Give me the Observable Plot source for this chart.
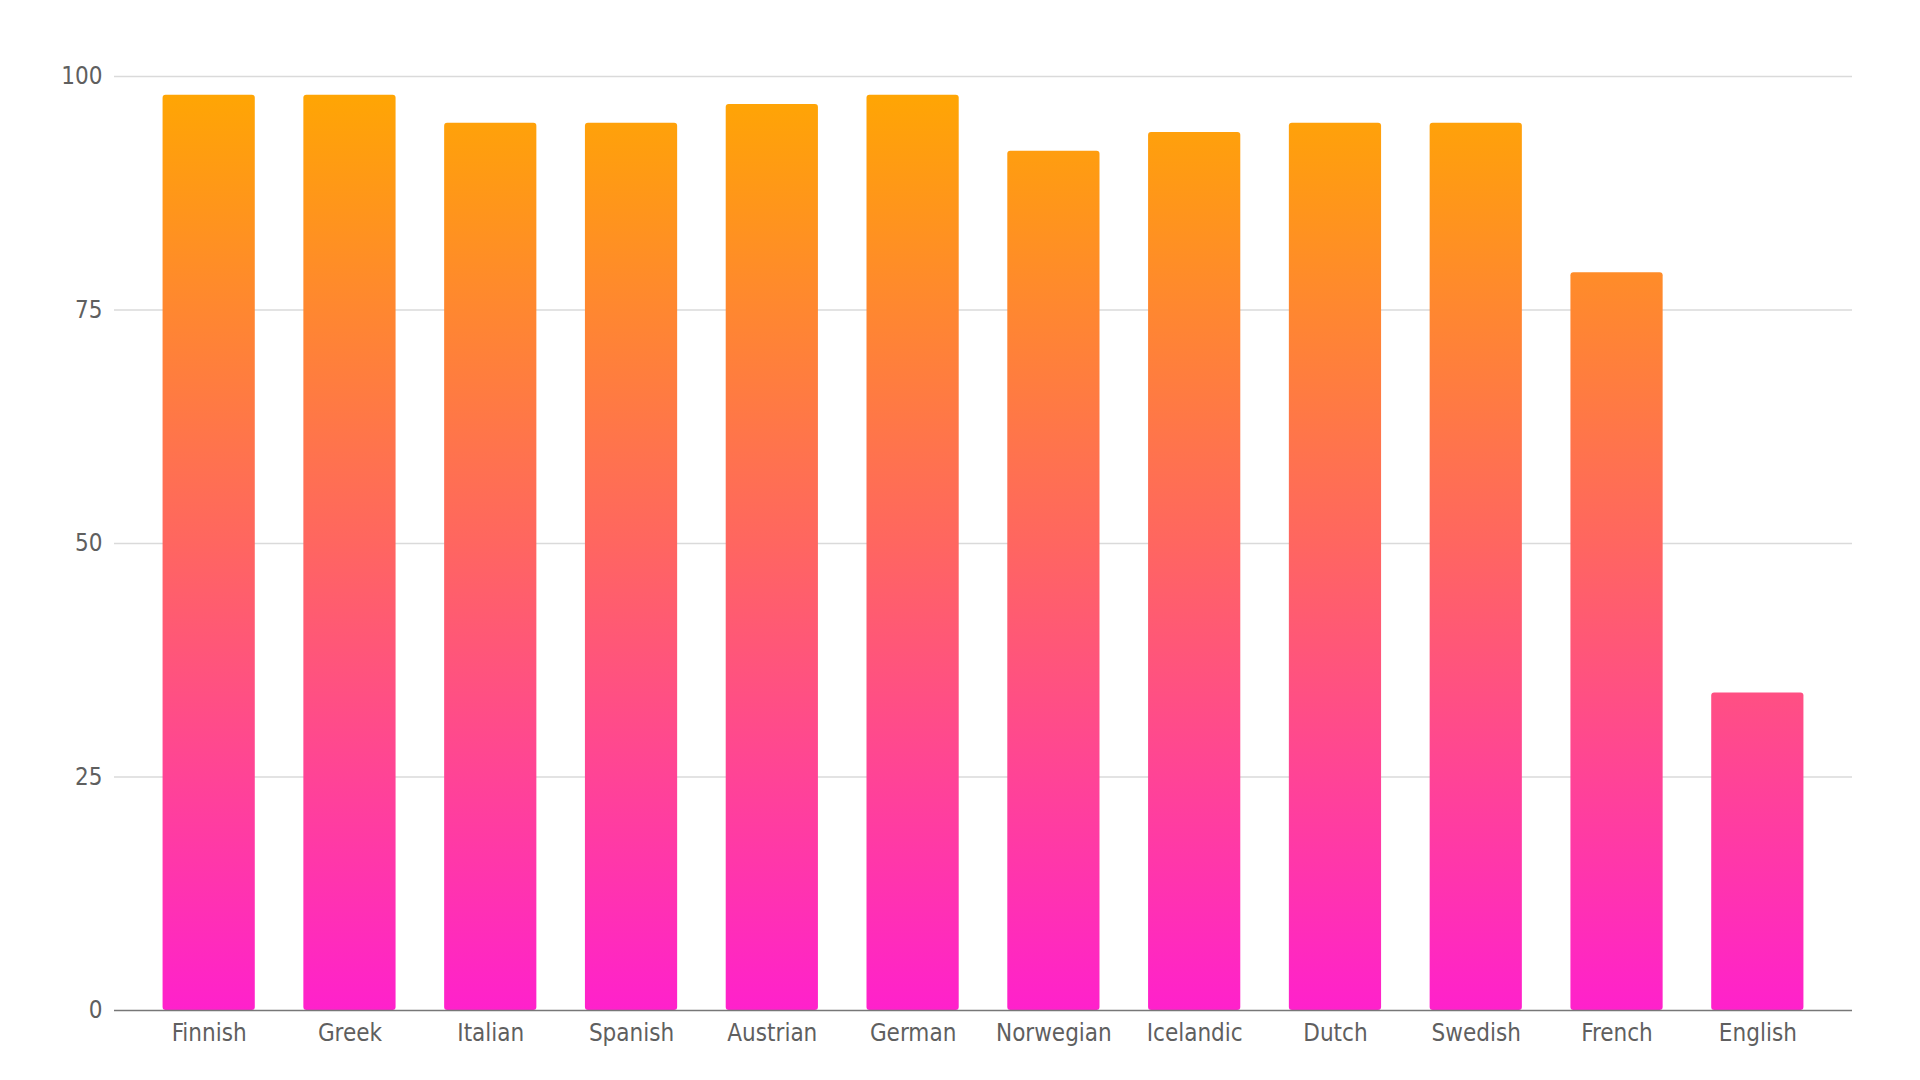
<!DOCTYPE html>
<html>
<head>
<meta charset="utf-8">
<script src="https://cdn.jsdelivr.net/npm/d3@7"></script>
<script src="https://cdn.jsdelivr.net/npm/@observablehq/plot@0.6"></script>
<style>
  html, body { margin: 0; padding: 0; background: #fff; }
  #chart { width: 1920px; height: 1080px; }
</style>
</head>
<body>
<div id="chart"></div>
<script>
const languages = ["Finnish", "Greek", "Italian", "Spanish", "Austrian", "German", "Norwegian", "Icelandic", "Dutch", "Swedish", "French", "English"];
const values = [98, 98, 95, 95, 97, 98, 92, 94, 95, 95, 79, 34];
const yTicks = [0, 25, 50, 75, 100];

const data = languages.map((name, i) => ({name, value: values[i]}));

const chart = Plot.plot({
  width: 1920,
  height: 1080,
  marginTop: 76,
  marginBottom: 70,
  marginLeft: 114,
  marginRight: 68,
  style: {fontFamily: "'DejaVu Sans Condensed', 'DejaVu Sans', sans-serif", fontSize: "24px", color: "#5f5f5f", background: "#fff"},
  x: {domain: languages, padding: 0.345, round: false, label: null},
  y: {domain: [0, 100], ticks: yTicks, label: null},
  marks: [
    Plot.ruleY(yTicks.filter(d => d > 0), {stroke: "#dadada", strokeWidth: 1.5}),
    Plot.barY(data, {x: "name", y: "value", fill: "url(#barGrad)", rx: 3}),
    Plot.ruleY([0], {stroke: "#777", strokeWidth: 1.5}),
    Plot.axisY({ticks: yTicks, tickSize: 0, tickPadding: 12, label: null, fill: "#5f5f5f"}),
    Plot.axisX({tickSize: 0, tickPadding: 13, label: null, fill: "#5f5f5f"})
  ]
});

// gradient spanning the value range 0..100 in user space
const y = chart.scale("y");
const svgNS = "http://www.w3.org/2000/svg";
const defs = document.createElementNS(svgNS, "defs");
const grad = document.createElementNS(svgNS, "linearGradient");
grad.setAttribute("id", "barGrad");
grad.setAttribute("gradientUnits", "userSpaceOnUse");
grad.setAttribute("x1", 0);
grad.setAttribute("x2", 0);
grad.setAttribute("y1", y.apply(0));
grad.setAttribute("y2", y.apply(100));
[["0%", "#ff21cc"], ["50%", "#ff6660"], ["100%", "#ffa800"]].forEach(([o, c]) => {
  const s = document.createElementNS(svgNS, "stop");
  s.setAttribute("offset", o);
  s.setAttribute("stop-color", c);
  grad.appendChild(s);
});
defs.appendChild(grad);
chart.insertBefore(defs, chart.firstChild);

document.getElementById("chart").appendChild(chart);
</script>
</body>
</html>
